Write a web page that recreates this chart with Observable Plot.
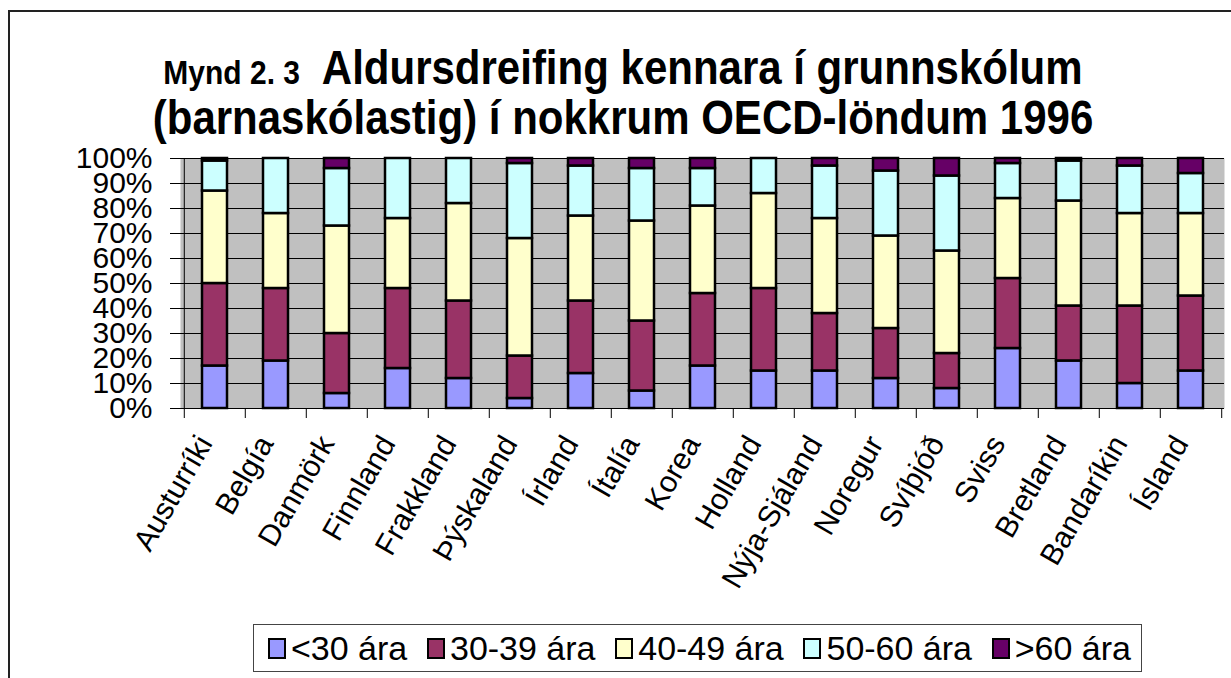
<!DOCTYPE html>
<html>
<head>
<meta charset="utf-8">
<script src="https://cdn.jsdelivr.net/npm/d3@7"></script>
<script src="https://cdn.jsdelivr.net/npm/@observablehq/plot@0.6"></script>
<style>
  html, body { margin: 0; padding: 0; background: #fff; }
  body { width: 1231px; height: 678px; position: relative; overflow: hidden; font-family: "Liberation Sans", Arial, sans-serif; }
  #frame { position: absolute; left: 8px; top: 10px; width: 1240px; height: 700px; border: 2px solid #222; box-sizing: border-box; }
  #title { position: absolute; left: 0; top: 44px; width: 1246px; text-align: center; font-weight: bold; font-size: 42px; line-height: 41px; color: #000; transform: scale(1, 1.13); transform-origin: 50% 0; }
  #title .small { font-size: 30px; }
  #chart { position: absolute; left: 0; top: 0; }
  #legend { position: absolute; left: 253px; top: 624px; width: 889px; height: 48px; border: 1px solid #444; box-sizing: border-box; display: flex; align-items: center; justify-content: space-between; padding: 0 10px 0 14px; font-size: 34px; color: #000; }
  #legend .item { display: flex; align-items: center; gap: 5px; }
  #legend .sw { width: 14px; height: 17px; border: 2px solid #000; box-sizing: content-box; }
</style>
</head>
<body>
<div id="frame"></div>
<div id="title"><span class="small">Mynd 2. 3</span>&nbsp; Aldursdreifing kennara í grunnskólum<br>(barnaskólastig) í nokkrum OECD-löndum 1996</div>
<div id="chart"></div>
<div id="legend"></div>
<script>
const countries = ["Austurríki","Belgía","Danmörk","Finnland","Frakkland","Þýskaland","Írland","Ítalía","Korea","Holland","Nýja-Sjáland","Noregur","Svíþjóð","Sviss","Bretland","Bandaríkin","Ísland"];
const ages = ["<30 ára","30-39 ára","40-49 ára","50-60 ára",">60 ára"];
const under30  = [17,19, 6,16,12, 4,14, 7,17,15,15,12, 8,24,19,10,15];
const age30_39 = [33,29,24,32,31,17,29,28,29,33,23,20,14,28,22,31,30];
const age40_49 = [37,30,43,28,39,47,34,40,35,38,38,37,41,32,42,37,33];
const age50_60 = [12,22,23,24,18,30,20,21,15,14,21,26,30,14,16,19,16];
const over60   = [ 1, 0, 4, 0, 0, 2, 3, 4, 4, 0, 3, 5, 7, 2, 1, 3, 6];
const colors = ["#9999FF","#993366","#FFFFCC","#CCFFFF","#660066"];
const yTicks = [0,10,20,30,40,50,60,70,80,90,100];

const series = [under30, age30_39, age40_49, age50_60, over60];
const rows = [];
series.forEach((vals, i) => vals.forEach((v, j) => rows.push({country: countries[j], age: ages[i], value: v})));

const W = 1231, H = 620, mL = 180, mR = 7, mT = 158, mB = 212;
const bw = (W - mL - mR) / countries.length;

const chart = Plot.plot({
  width: W, height: H,
  marginTop: mT, marginBottom: mB, marginLeft: mL, marginRight: mR,
  style: {fontFamily: "Liberation Sans, Arial, sans-serif", background: "transparent", color: "#000", overflow: "visible"},
  x: {domain: countries, padding: 0, label: null},
  y: {domain: [0, 100], label: null},
  color: {domain: ages, range: colors},
  marks: [
    Plot.frame({fill: "#C0C0C0", stroke: null}),
    Plot.ruleY(yTicks, {stroke: "#000", strokeWidth: 1}),
    Plot.barY(rows, {x: "country", y: "value", fill: "age", stroke: "#000", strokeWidth: 2.5, insetLeft: 18, insetRight: 18}),
    Plot.ruleX(countries, {x: d => d, dx: -bw / 2, y1: -4, y2: 0, stroke: "#000", strokeWidth: 1}),
    Plot.ruleX([countries[countries.length - 1]], {x: d => d, dx: bw / 2, y1: -4, y2: 0, stroke: "#000", strokeWidth: 1}),
    Plot.ruleX([countries[0]], {x: d => d, dx: -bw / 2, y1: 0, y2: 100, stroke: "#000", strokeWidth: 1}),
    Plot.axisY({ticks: yTicks, tickFormat: d => d + "%", tickSize: 10, tickPadding: 18, fontSize: 30, label: null, stroke: "#000"}),
    Plot.axisX({tickSize: 0, tickRotate: -60, fontSize: 30, tickPadding: 30, dx: -10, label: null})
  ]
});
document.getElementById("chart").appendChild(chart);

const legend = document.getElementById("legend");
ages.forEach((a, i) => {
  const it = document.createElement("div");
  it.className = "item";
  const sw = document.createElement("div");
  sw.className = "sw";
  sw.style.background = colors[i];
  const t = document.createElement("span");
  t.textContent = a;
  it.appendChild(sw); it.appendChild(t);
  legend.appendChild(it);
});
</script>
</body>
</html>
